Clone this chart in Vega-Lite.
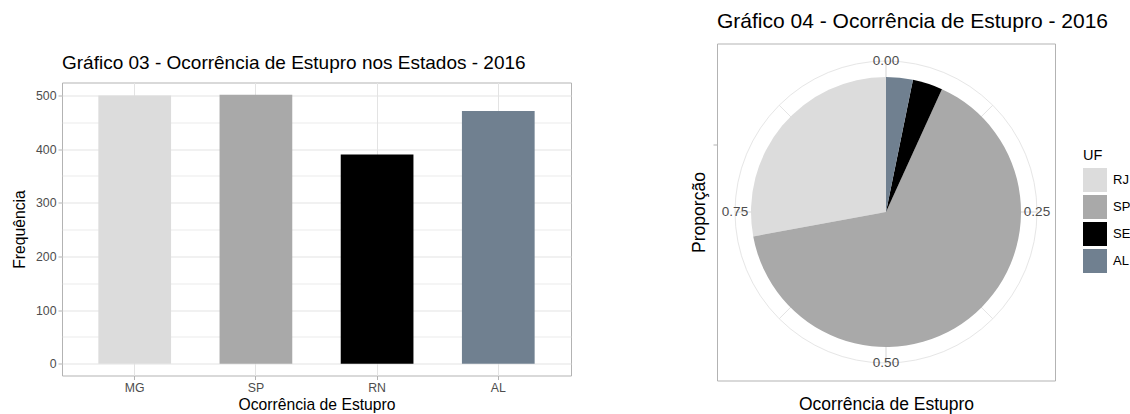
{
  "$schema": "https://vega.github.io/schema/vega-lite/v6.json",
  "background": "white",
  "padding": {"left": 10, "top": 9.5, "right": 0, "bottom": 0},
  "spacing": 118,
  "datasets": {
    "barras": [
      {"UF": "MG", "Frequencia": 500},
      {"UF": "SP", "Frequencia": 501},
      {"UF": "RN", "Frequencia": 390},
      {"UF": "AL", "Frequencia": 471}
    ],
    "vazio": [],
    "pizza": [
      {"UF": "RJ", "Proporcao": 0.279, "ordem": 4},
      {"UF": "SP", "Proporcao": 0.653, "ordem": 3},
      {"UF": "SE", "Proporcao": 0.036, "ordem": 2},
      {"UF": "AL", "Proporcao": 0.032, "ordem": 1}
    ],
    "rotulos": [
      {"t": 0, "rotulo": "0.00"},
      {"t": 0.25, "rotulo": "0.25"},
      {"t": 0.5, "rotulo": "0.50"},
      {"t": 0.75, "rotulo": "0.75"}
    ],
    "grade": [
      {"t": 0, "tipo": "major"},
      {"t": 0.125, "tipo": "minor"},
      {"t": 0.25, "tipo": "major"},
      {"t": 0.375, "tipo": "minor"},
      {"t": 0.5, "tipo": "major"},
      {"t": 0.625, "tipo": "minor"},
      {"t": 0.75, "tipo": "major"},
      {"t": 0.875, "tipo": "minor"}
    ],
    "eixo": [{"a": 0, "b": 0.7}]
  },
  "hconcat": [
    {
      "spacing": 0,
      "vconcat": [
        {
          "width": 509,
          "height": 9,
          "data": {"name": "vazio"},
          "mark": {"type": "point"},
          "view": {"stroke": null}
        },
        {
          "width": 509,
          "height": 293,
          "title": {
            "text": "Gráfico 03 - Ocorrência de Estupro nos Estados - 2016",
            "fontSize": 19,
            "anchor": "start",
            "frame": "group",
            "offset": 10
          },
          "data": {"name": "barras"},
          "mark": {"type": "bar"},
          "encoding": {
            "x": {
              "field": "UF",
              "type": "nominal",
              "sort": ["MG", "SP", "RN", "AL"],
              "scale": {"paddingInner": 0.4, "paddingOuter": 0.3},
              "axis": {
                "title": "Ocorrência de Estupro",
                "titleFontSize": 15.7,
                "labelAngle": 0,
                "bandPosition": 0.5,
                "grid": true,
                "gridWidth": 1,
                "tickSize": 4,
                "labelPadding": 2,
                "titlePadding": 4
              }
            },
            "y": {
              "field": "Frequencia",
              "type": "quantitative",
              "scale": {"domain": [-22, 524], "nice": false, "zero": false},
              "axis": {
                "title": "Frequência",
                "titleFontSize": 15.7,
                "values": [0, 50, 100, 150, 200, 250, 300, 350, 400, 450, 500],
                "labelExpr": "datum.value % 100 === 0 ? datum.label : ''",
                "tickOpacity": {"condition": {"test": "datum.value % 100 === 0", "value": 1}, "value": 0},
                "gridWidth": {"condition": {"test": "datum.value % 100 === 0", "value": 1}, "value": 0.7},
                "tickSize": 4,
                "labelPadding": 2,
                "titlePadding": 8
              }
            },
            "color": {
              "field": "UF",
              "type": "nominal",
              "scale": {"domain": ["MG", "SP", "RN", "AL"], "range": ["#DCDCDC", "#A9A9A9", "#000000", "#708090"]},
              "legend": null
            }
          }
        }
      ]
    },
    {
      "width": 338,
      "height": 337,
      "title": {
        "text": "Gráfico 04 - Ocorrência de Estupro - 2016",
        "fontSize": 21,
        "anchor": "start",
        "frame": "group",
        "offset": 12
      },
      "layer": [
        {
          "data": {"name": "eixo"},
          "mark": {"type": "point", "opacity": 0},
          "encoding": {
            "x": {
              "field": "a",
              "type": "quantitative",
              "scale": {"domain": [0, 1], "nice": false},
              "axis": {"title": "Ocorrência de Estupro", "titleFontSize": 17.5, "labels": false, "ticks": false, "grid": false, "domain": false, "titlePadding": 15}
            },
            "y": {
              "field": "b",
              "type": "quantitative",
              "scale": {"domain": [0, 1], "nice": false},
              "axis": {"title": "Proporção", "titleFontSize": 17.5, "values": [0.7], "labels": false, "ticks": true, "tickSize": 4, "grid": false, "domain": false, "titlePadding": 4}
            }
          }
        },
        {
          "data": {"name": "grade"},
          "mark": {"type": "arc", "radius": 151, "fill": null, "stroke": "#e3e3e3"},
          "encoding": {
            "theta": {"field": "t", "type": "quantitative", "scale": {"domain": [0, 1]}},
            "theta2": {"field": "t"},
            "strokeWidth": {"field": "tipo", "type": "nominal", "scale": {"domain": ["major", "minor"], "range": [1, 0.8]}, "legend": null}
          }
        },
        {
          "data": {"name": "eixo"},
          "mark": {"type": "arc", "radius": 151, "theta": 0, "theta2": 6.2832, "fill": null, "stroke": "#e6e6e6", "strokeWidth": 1},
          "encoding": {}
        },
        {
          "data": {"name": "pizza"},
          "mark": {"type": "arc", "radius": 135},
          "encoding": {
            "theta": {"field": "Proporcao", "type": "quantitative", "stack": true, "scale": {"domain": [0, 1]}},
            "order": {"field": "ordem", "type": "quantitative", "sort": "ascending"},
            "color": {
              "field": "UF",
              "type": "nominal",
              "scale": {"domain": ["RJ", "SP", "SE", "AL"], "range": ["#DCDCDC", "#A9A9A9", "#000000", "#708090"]},
              "legend": {
                "title": "UF",
                "orient": "none",
                "legendX": 366,
                "legendY": 105,
                "symbolType": "square",
                "symbolSize": 576,
                "symbolStrokeWidth": 0,
                "rowPadding": 3,
                "labelOffset": 6,
                "titlePadding": 5
              }
            }
          }
        },
        {
          "data": {"name": "rotulos"},
          "mark": {"type": "text", "radius": 151, "align": "center", "baseline": "middle", "fontSize": 13.5, "color": "#4d4d4d"},
          "encoding": {
            "theta": {"field": "t", "type": "quantitative", "scale": {"domain": [0, 1]}},
            "text": {"field": "rotulo", "type": "nominal"}
          }
        }
      ]
    }
  ],
  "resolve": {
    "scale": {"color": "independent", "x": "independent", "y": "independent", "theta": "independent"},
    "legend": {"color": "independent"}
  },
  "config": {
    "font": "Liberation Sans",
    "view": {"stroke": "#b3b3b3", "strokeWidth": 1},
    "title": {"fontWeight": "normal", "color": "#000000", "font": "Liberation Sans"},
    "axis": {
      "labelColor": "#4d4d4d",
      "labelFontSize": 12.3,
      "titleFontSize": 15,
      "titleFontWeight": "normal",
      "titleColor": "#000000",
      "tickColor": "#b3b3b3",
      "gridColor": "#e3e3e3",
      "domain": false
    },
    "legend": {
      "titleFontSize": 14.5,
      "titleFontWeight": "normal",
      "titleColor": "#000000",
      "labelFontSize": 13,
      "labelColor": "#000000"
    }
  }
}
